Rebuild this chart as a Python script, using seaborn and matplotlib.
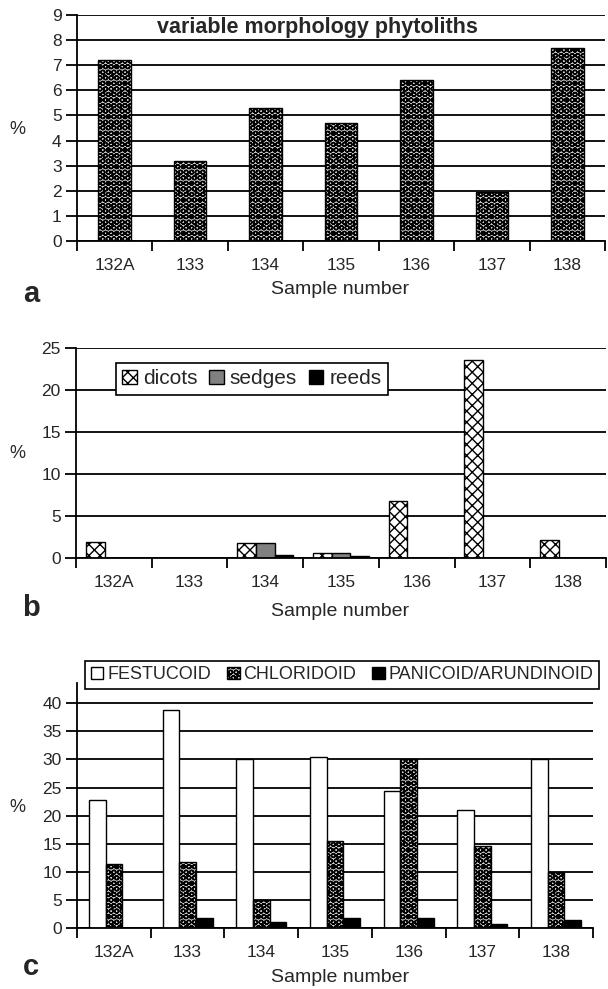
import matplotlib
matplotlib.use("Agg")
import matplotlib.pyplot as plt
import numpy as np
import pandas as pd
import seaborn as sns

# data
samples = ["132A", "133", "134", "135", "136", "137", "138"]

variable_morph = [7.2, 3.2, 5.3, 4.7, 6.4, 1.95, 7.7]

dicots = [1.9, 0.0, 1.8, 0.6, 6.8, 23.6, 2.1]
sedges = [0.0, 0.0, 1.8, 0.6, 0.0, 0.0, 0.0]
reeds = [0.0, 0.0, 0.4, 0.2, 0.0, 0.0, 0.0]

festucoid = [22.8, 38.8, 30.0, 30.5, 24.3, 21.0, 30.0]
chloridoid = [11.4, 11.7, 4.9, 15.5, 30.0, 14.6, 10.0]
panicoid = [0.0, 1.7, 1.0, 1.8, 1.7, 0.7, 1.4]

sns.set_style("white")
plt.rcParams["font.family"] = ["Liberation Sans", "DejaVu Sans"]
plt.rcParams["hatch.linewidth"] = 1.0

W, H = 608, 989
fig = plt.figure(figsize=(W / 100, H / 100), dpi=100)

TICK_FS = 12.5
LABEL_FS = 14


def px_axes(left, right, top, bottom):
    """Axes from pixel box (image coordinates)."""
    return fig.add_axes([left / W, 1 - bottom / H, (right - left) / W, (bottom - top) / H])


def style_axes(ax, ymax, ystep, ytop=None):
    ax.set_ylim(0, ytop if ytop else ymax)
    ax.set_xlim(-0.5, len(samples) - 0.5)
    ax.set_yticks(np.arange(0, ymax + 0.01, ystep))
    ax.yaxis.grid(True, color="black", linewidth=1.3)
    ax.set_axisbelow(True)
    for side in ["top", "right"]:
        ax.spines[side].set_visible(False)
    for side in ["left", "bottom"]:
        ax.spines[side].set_color("black")
        ax.spines[side].set_linewidth(1.3)
    ax.set_xticks(np.arange(len(samples)))
    ax.set_xticklabels(samples)
    ax.set_xticks(np.arange(-0.5, len(samples), 1.0), minor=True)
    ax.tick_params(axis="x", which="major", length=0, labelsize=TICK_FS, pad=12)
    ax.tick_params(axis="x", which="minor", length=7, width=1.3, color="black", direction="out", bottom=True)
    ax.tick_params(axis="y", length=8, width=1.3, color="black", direction="out", left=True,
                   labelsize=TICK_FS, pad=3)
    ax.set_xlabel("")
    ax.set_ylabel("")


def panel_text(pct_y, xlabel_y, letter, letter_y):
    fig.text(17 / W, 1 - pct_y / H, "%", fontsize=13, ha="center", va="center")
    fig.text(340 / W, 1 - xlabel_y / H, "Sample number", fontsize=LABEL_FS, ha="center", va="center")
    fig.text(31 / W, 1 - letter_y / H, letter, fontsize=21, fontweight="bold", ha="center", va="center")


# ---- panel a ----
ax_a = px_axes(77, 605, 15, 241)
df_a = pd.DataFrame({"sample": samples, "pct": variable_morph})
sns.barplot(data=df_a, x="sample", y="pct", ax=ax_a, width=0.43,
            color="#d0d0d0", edgecolor="black", linewidth=1.0, saturation=1)
for p in ax_a.patches:
    p.set_hatch("OOO..")
style_axes(ax_a, 9, 1)
ax_a.text(0.455, 0.99, "variable morphology phytoliths", transform=ax_a.transAxes,
          ha="center", va="top", fontsize=15.5, fontweight="bold")
panel_text(130, 290, "a", 294)

# ---- panel b ----
ax_b = px_axes(76, 606, 348, 558)
df_b = pd.DataFrame({"sample": samples, "dicots": dicots, "sedges": sedges, "reeds": reeds})
df_b = df_b.melt(id_vars="sample", var_name="group", value_name="pct")
sns.barplot(data=df_b, x="sample", y="pct", hue="group", ax=ax_b, width=0.74,
            palette=["white", "#808080", "black"], edgecolor="black", linewidth=1.0,
            saturation=1, legend=False)
for cont, hatch in zip(ax_b.containers, ["xxx", None, None]):
    for p in cont:
        p.set_hatch(hatch)
style_axes(ax_b, 25, 5)
leg_b = fig.legend(ax_b.containers, ["dicots", "sedges", "reeds"], ncol=3,
                   loc="upper left", bbox_to_anchor=(116 / W, 1 - 363 / H), fontsize=15,
                   frameon=True, fancybox=False, edgecolor="black", framealpha=1,
                   handlelength=0.7, handleheight=0.7, handletextpad=0.3,
                   columnspacing=0.55, borderpad=0.3, borderaxespad=0)
leg_b.get_frame().set_linewidth(1.2)
panel_text(453, 612, "b", 608)

# ---- panel c ----
ax_c = px_axes(77, 593, 683, 928)
df_c = pd.DataFrame({"sample": samples, "FESTUCOID": festucoid,
                     "CHLORIDOID": chloridoid, "PANICOID/ARUNDINOID": panicoid})
df_c = df_c.melt(id_vars="sample", var_name="group", value_name="pct")
sns.barplot(data=df_c, x="sample", y="pct", hue="group", ax=ax_c, width=0.68,
            palette=["white", "#d0d0d0", "black"], edgecolor="black", linewidth=1.0,
            saturation=1, legend=False)
for cont, hatch in zip(ax_c.containers, [None, "OOO..", None]):
    for p in cont:
        p.set_hatch(hatch)
style_axes(ax_c, 40, 5, ytop=43.6)
leg_c = fig.legend(ax_c.containers, ["FESTUCOID", "CHLORIDOID", "PANICOID/ARUNDINOID"], ncol=3,
                   loc="upper right", bbox_to_anchor=(599 / W, 1 - 661 / H), fontsize=13,
                   frameon=True, fancybox=False, edgecolor="black", framealpha=1,
                   handlelength=0.7, handleheight=0.7, handletextpad=0.2,
                   columnspacing=0.9, borderpad=0.3, borderaxespad=0)
leg_c.get_frame().set_linewidth(1.2)
panel_text(808, 978, "c", 967)

fig.savefig("out.png", dpi=100)
